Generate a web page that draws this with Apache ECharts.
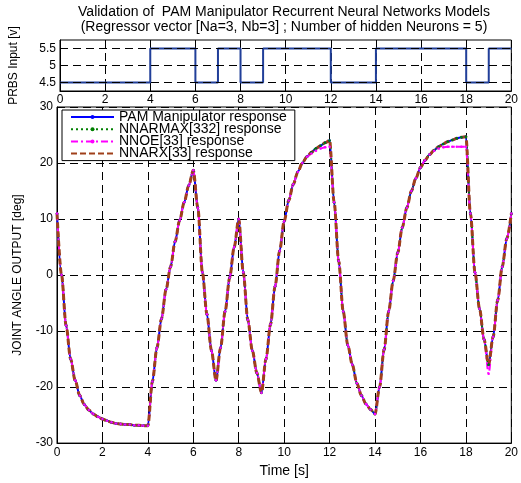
<!DOCTYPE html>
<html>
<head>
<meta charset="utf-8">
<script src="https://cdn.jsdelivr.net/npm/echarts@6/dist/echarts.min.js"></script>
<style>
html,body{margin:0;padding:0;background:#fff;}
#main{width:521px;height:483px;}
</style>
</head>
<body>
<div id="main"></div>
<script>
// sample times [s]
var timeS = [0,0.2,0.4,0.6,0.8,1,1.2,1.4,1.6,1.8,2,2.2,2.4,2.6,2.8,3,3.2,3.4,3.6,3.8,
  4,4.2,4.4,4.6,4.8,5,5.2,5.4,5.6,5.8,6,6.2,6.4,6.6,6.8,7,7.2,7.4,7.6,7.8,
  8,8.2,8.4,8.6,8.8,9,9.2,9.4,9.6,9.8,10,10.2,10.4,10.6,10.8,11,11.2,11.4,11.6,11.8,
  12,12.2,12.4,12.6,12.8,13,13.2,13.4,13.6,13.8,14,14.2,14.4,14.6,14.8,15,15.2,15.4,15.6,15.8,
  16,16.2,16.4,16.6,16.8,17,17.2,17.4,17.6,17.8,18,18.2,18.4,18.6,18.8,19,19.2,19.4,19.6,19.8,20];

// measured joint angle [deg]
var pamVals = [11,0,-9,-15,-18.8,-21.5,-23.1,-24.1,-24.8,-25.3,-25.7,-26,-26.3,-26.5,-26.6,-26.7,-26.7,-26.8,-26.8,-26.9,
  -26.9,-19,-13,-7.8,-2.6,1.5,6,9.8,13,16,18.7,12,0.5,-7,-13.5,-18.8,-13,-6.5,-0.5,5,
  10,0.5,-8,-13.5,-17.5,-21,-15,-8.8,-2,4.3,9.6,13.3,16.2,18.4,20,21.1,21.9,22.6,23.1,23.6,
  24,13,2.5,-6.5,-12.5,-16,-19.3,-21.5,-23,-24,-24.8,-20,-13.3,-6.5,-1,4,8.5,12,15,17.3,
  19.2,20.5,21.5,22.3,22.9,23.4,23.8,24.1,24.4,24.6,24.7,11,0.5,-6,-11.5,-16,-11,-4.5,1.5,6.5,11];

// NNARMAX and NNARX sit on the measured curve at this scale
var nnarmaxVals = pamVals;
var nnarxVals = pamVals;

// NNOE saturates near the peaks
var nnoeVals = [11,0,-9,-15,-18.8,-21.5,-23.1,-24.1,-24.8,-25.3,-25.7,-26,-26.3,-26.5,-26.6,-26.7,-26.7,-26.8,-26.8,-26.9,
  -26.9,-19,-13,-7.8,-2.6,1.5,6,9.8,13,16,18.7,12,0.5,-7,-13.5,-18.8,-13,-6.5,-0.5,5,
  10,0.5,-8,-13.5,-17.5,-21,-15,-8.8,-2,4.3,9.6,13.3,16.2,18.4,20,21.1,21.7,22.2,22.6,22.8,
  22.9,13,2.5,-6.5,-12.5,-16,-19.3,-21.5,-23,-24,-24.8,-20,-13.3,-6.5,-1,4,8.5,12,15,17.3,
  19.2,20.5,21.5,22.2,22.6,22.8,22.9,22.9,22.9,22.9,22.9,11,0.5,-6,-11.5,-17.6,-11,-4.5,1.5,6.5,11];

// PRBS input [v]
var prbsTimes = [0,4,6,7,8,9,12,14,18,19,20];
var prbsVals = [4.5,5.5,4.5,5.5,4.5,5.5,4.5,5.5,4.5,5.5,5.5];
var prbsTicks = [4.5,5,5.5];

var seriesNames = ['PAM Manipulator response','NNARMAX[332] response','NNOE[33] response','NNARX[33] response'];

function pairs(t, v){
  var out = [];
  for(var i=0;i<t.length;i++){ out.push([t[i], v[i]]); }
  return out;
}

var fnt = "'Liberation Sans', Arial, sans-serif";
var gridLine = {show:true, lineStyle:{color:'#000', type:[8,5], width:1}};
var axLine = {onZero:false, lineStyle:{color:'#000'}};

var chart = echarts.init(document.getElementById('main'));
var option = {
  animation:false,
  backgroundColor:'#fff',
  title:{
    text:'Validation of  PAM Manipulator Recurrent Neural Networks Models\n(Regressor vector [Na=3, Nb=3] ; Number of hidden Neurons = 5)',
    left:284, top:5, textAlign:'center', padding:0,
    textStyle:{fontSize:14, fontWeight:'normal', color:'#000', fontFamily:fnt, lineHeight:15}
  },
  legend:{
    orient:'vertical', left:62, top:110,
    backgroundColor:'#fff', borderColor:'#000', borderWidth:1,
    padding:[0,8,0,8], itemGap:-1.8, itemWidth:43, itemHeight:5,
    textStyle:{fontSize:14, color:'#000', fontFamily:fnt},
    data:[
      {name:seriesNames[0]},
      {name:seriesNames[1]},
      {name:seriesNames[2]},
      {name:seriesNames[3], itemStyle:{color:'rgba(0,0,0,0)'}}
    ]
  },
  grid:[
    {left:57, right:6, top:40, height:51, show:true, borderColor:'#000', borderWidth:1},
    {left:57, right:6, top:107, height:340, show:true, borderColor:'#000', borderWidth:1}
  ],
  xAxis:[
    {gridIndex:0, type:'value', min:0, max:20, interval:2,
     axisLine:axLine, axisTick:{inside:true, length:4, lineStyle:{color:'#000'}},
     axisLabel:{color:'#000', fontSize:12, fontFamily:fnt, margin:3},
     splitLine:gridLine},
    {gridIndex:1, type:'value', min:0, max:20, interval:2,
     name:'Time [s]', nameLocation:'middle', nameGap:19,
     nameTextStyle:{color:'#000', fontSize:14, fontFamily:fnt},
     axisLine:axLine, axisTick:{inside:true, length:4, lineStyle:{color:'#000'}},
     axisLabel:{color:'#000', fontSize:12, fontFamily:fnt, margin:4},
     splitLine:gridLine}
  ],
  yAxis:[
    {gridIndex:0, type:'value', min:4.25, max:5.75, interval:0.25,
     name:'PRBS Input [v]', nameLocation:'middle', nameGap:40,
     nameTextStyle:{color:'#000', fontSize:12, fontFamily:fnt},
     axisLine:axLine, axisTick:{show:false},
     axisLabel:{color:'#000', fontSize:12, fontFamily:fnt, margin:4,
       formatter:function(v){ return prbsTicks.indexOf(v) >= 0 ? String(v) : ''; }},
     splitLine:{show:false}},
    {gridIndex:1, type:'value', min:-30, max:30, interval:10,
     name:'JOINT ANGLE OUTPUT [deg]', nameLocation:'middle', nameGap:33,
     nameTextStyle:{color:'#000', fontSize:12, fontFamily:fnt},
     axisLine:axLine, axisTick:{inside:true, length:4, lineStyle:{color:'#000'}},
     axisLabel:{color:'#000', fontSize:12, fontFamily:fnt, margin:4},
     splitLine:gridLine}
  ],
  series:[
    {
      // horizontal grid lines of the input panel
      type:'line', xAxisIndex:0, yAxisIndex:0, data:[], z:1, silent:true,
      markLine:{symbol:'none', silent:true, label:{show:false},
        lineStyle:{color:'#000', type:[8,5], width:1},
        data:prbsTicks.map(function(v){ return {yAxis:v}; })}
    },
    {
      type:'line', xAxisIndex:0, yAxisIndex:0, step:'end', showSymbol:false,
      data:pairs(prbsTimes, prbsVals),
      lineStyle:{color:'#213f99', width:2}, itemStyle:{color:'#213f99'}
    },
    {
      name:seriesNames[0], type:'line', xAxisIndex:1, yAxisIndex:1,
      data:pairs(timeS, pamVals), symbol:'circle', symbolSize:2.5, smooth:0.3, smoothMonotone:'x',
      lineStyle:{color:'#0000ff', width:2}, itemStyle:{color:'#0000ff'}
    },
    {
      name:seriesNames[1], type:'line', xAxisIndex:1, yAxisIndex:1,
      data:pairs(timeS, nnarmaxVals), symbol:'circle', symbolSize:2.5, smooth:0.3, smoothMonotone:'x',
      lineStyle:{color:'#008000', width:2, type:[2,3]}, itemStyle:{color:'#008000'}
    },
    {
      name:seriesNames[2], type:'line', xAxisIndex:1, yAxisIndex:1,
      data:pairs(timeS, nnoeVals), symbol:'circle', symbolSize:2.5, smooth:0.3, smoothMonotone:'x',
      lineStyle:{color:'#ff00ff', width:2, type:[7,3,2,3]}, itemStyle:{color:'#ff00ff'}
    },
    {
      name:seriesNames[3], type:'line', xAxisIndex:1, yAxisIndex:1,
      data:pairs(timeS, nnarxVals), symbol:'none', smooth:0.3, smoothMonotone:'x',
      lineStyle:{color:'#a0401a', width:3, type:[6,3]}, itemStyle:{color:'#a0401a'}
    }
  ]
};
chart.setOption(option);
</script>
</body>
</html>
